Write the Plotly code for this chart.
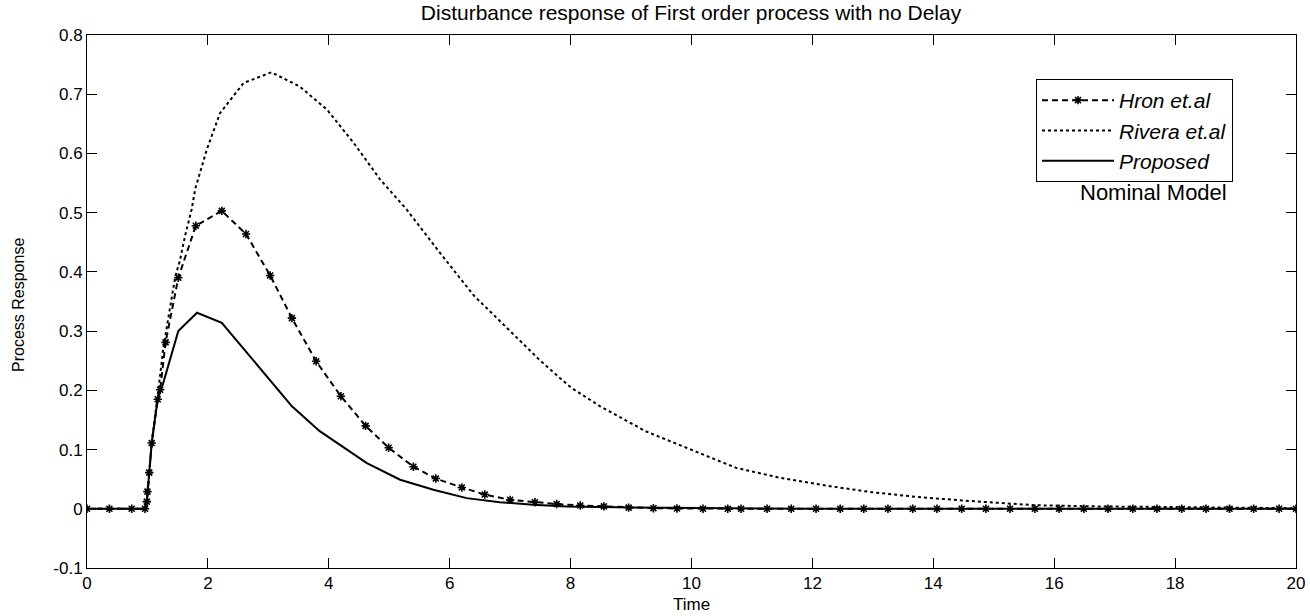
import plotly.graph_objects as go

# ---- data ----
hron_t = [0, 0.37, 0.74, 0.96, 0.99, 1.00, 1.03, 1.07, 1.17, 1.21, 1.30, 1.51, 1.80, 2.23, 2.63,
          3.03, 3.39, 3.79, 4.20, 4.61, 4.99, 5.40, 5.77, 6.20, 6.58, 7.00, 7.41, 7.77, 8.16,
          8.55, 8.96, 9.37, 9.76, 10.19, 10.60, 10.82, 11.25, 11.65, 12.06, 12.46, 12.85, 13.25,
          13.66, 14.06, 14.47, 14.87, 15.27, 15.68, 16.08, 16.49, 16.89, 17.30, 17.70, 18.11,
          18.51, 18.90, 19.30, 19.72, 20.0]
hron_y = [0, 0, 0, 0, 0.012, 0.029, 0.061, 0.111, 0.185, 0.201, 0.281, 0.39, 0.478, 0.503, 0.464,
          0.394, 0.322, 0.249, 0.19, 0.14, 0.103, 0.071, 0.051, 0.036, 0.024, 0.015, 0.011, 0.008, 0.0056,
          0.004, 0.002, 0.001, 0.0005, 0, 0, 0, 0, 0, 0, 0, 0, 0,
          0, 0, 0, 0, 0, 0, 0, 0, 0, 0, 0, 0,
          0, 0, 0, 0, 0]

rivera_t = [0, 0.98, 1.03, 1.08, 1.18, 1.26, 1.35, 1.46, 1.54, 1.62, 1.73, 1.79, 1.98, 2.2, 2.59,
            3.05, 3.52, 3.97, 4.41, 4.85, 5.29, 5.84, 6.4, 7.0, 7.5, 8.0, 8.49, 9.24, 9.99, 10.74,
            11.48, 12.23, 12.98, 13.73, 14.48, 15.23, 15.68, 16.72, 17.85, 18.97, 20.0]
rivera_y = [0, 0, 0.06, 0.12, 0.2, 0.269, 0.325, 0.392, 0.42, 0.46, 0.505, 0.54, 0.606, 0.668, 0.719,
            0.737, 0.713, 0.674, 0.618, 0.556, 0.505, 0.432, 0.36, 0.30, 0.25, 0.205, 0.173, 0.131, 0.10, 0.069,
            0.052, 0.039, 0.028, 0.020, 0.014, 0.0096, 0.006, 0.004, 0.003, 0.002, 0.001]

prop_t = [0, 0.98, 1.03, 1.07, 1.17, 1.26, 1.51, 1.82, 2.23, 2.61, 2.97, 3.39, 3.85, 4.3, 4.63,
          5.18, 5.73, 6.28, 6.83, 7.38, 7.94, 9.03, 10, 12, 14, 16, 18, 20]
prop_y = [0, 0, 0.061, 0.111, 0.185, 0.212, 0.30, 0.331, 0.314, 0.268, 0.224, 0.173, 0.131, 0.10, 0.077,
          0.049, 0.032, 0.018, 0.011, 0.007, 0.004, 0.002, 0.001, 0, 0, 0, 0, 0]

x_ticks = [0, 2, 4, 6, 8, 10, 12, 14, 16, 18, 20]
y_ticks = [-0.1, 0, 0.1, 0.2, 0.3, 0.4, 0.5, 0.6, 0.7, 0.8]
y_tick_text = ["-0.1", "0", "0.1", "0.2", "0.3", "0.4", "0.5", "0.6", "0.7", "0.8"]

FONT = "Liberation Sans, Arial, sans-serif"

fig = go.Figure()
fig.add_trace(go.Scatter(
    x=hron_t, y=hron_y, name="<i>Hron et.al</i>", mode="lines+markers",
    line=dict(color="black", width=2, dash="6px,4px"),
    marker=dict(symbol="asterisk-open", size=7, color="black", line=dict(color="black", width=1.6)),
))
fig.add_trace(go.Scatter(
    x=rivera_t, y=rivera_y, name="<i>Rivera et.al</i>", mode="lines",
    line=dict(color="black", width=2, dash="dot"),
))
fig.add_trace(go.Scatter(
    x=prop_t, y=prop_y, name="<i>Proposed</i>", mode="lines",
    line=dict(color="black", width=2),
))

axis_common = dict(
    showline=True, linecolor="black", linewidth=1, mirror="allticks",
    ticks="inside", ticklen=10, tickcolor="black", tickwidth=1,
    showgrid=False, zeroline=False, automargin=False,
    tickfont=dict(family=FONT, size=17, color="black"),
)

fig.update_xaxes(range=[0, 20], tickvals=x_ticks, **axis_common)
fig.update_yaxes(range=[-0.1, 0.8], tickvals=y_ticks, ticktext=y_tick_text, **axis_common)

fig.update_layout(
    width=1310, height=616,
    margin=dict(l=87, r=14, t=35, b=48),
    paper_bgcolor="white", plot_bgcolor="white",
    title=dict(text="Disturbance response of First order process with no Delay",
               font=dict(family=FONT, size=21, color="black"),
               x=691 / 1310, xanchor="center", y=1 - 13 / 616, yanchor="middle"),
    legend=dict(x=(1036 - 87) / 1209, y=(568 - 79) / 533, xanchor="left", yanchor="top",
                bordercolor="black", borderwidth=1, bgcolor="white",
                font=dict(family=FONT, size=21, color="black"),
                itemwidth=72, tracegroupgap=0),
    annotations=[
        dict(text="Nominal Model", xref="paper", yref="paper",
             x=(1153 - 87) / 1209, y=(568 - 192) / 533, xanchor="center", yanchor="middle",
             showarrow=False, font=dict(family=FONT, size=22, color="black")),
        dict(text="Time", xref="paper", yref="paper",
             x=0.5, y=(568 - 604) / 533, xanchor="center", yanchor="middle",
             showarrow=False, font=dict(family=FONT, size=17, color="black")),
        dict(text="Process Response", xref="paper", yref="paper",
             x=(18 - 87) / 1209, y=(568 - 305) / 533, xanchor="center", yanchor="middle",
             textangle=-90, showarrow=False, font=dict(family=FONT, size=16, color="black")),
    ],
    showlegend=True,
)

fig.write_html("out.html", config={"displayModeBar": False},
               post_script="document.body.style.margin='0';document.body.style.padding='0';")
